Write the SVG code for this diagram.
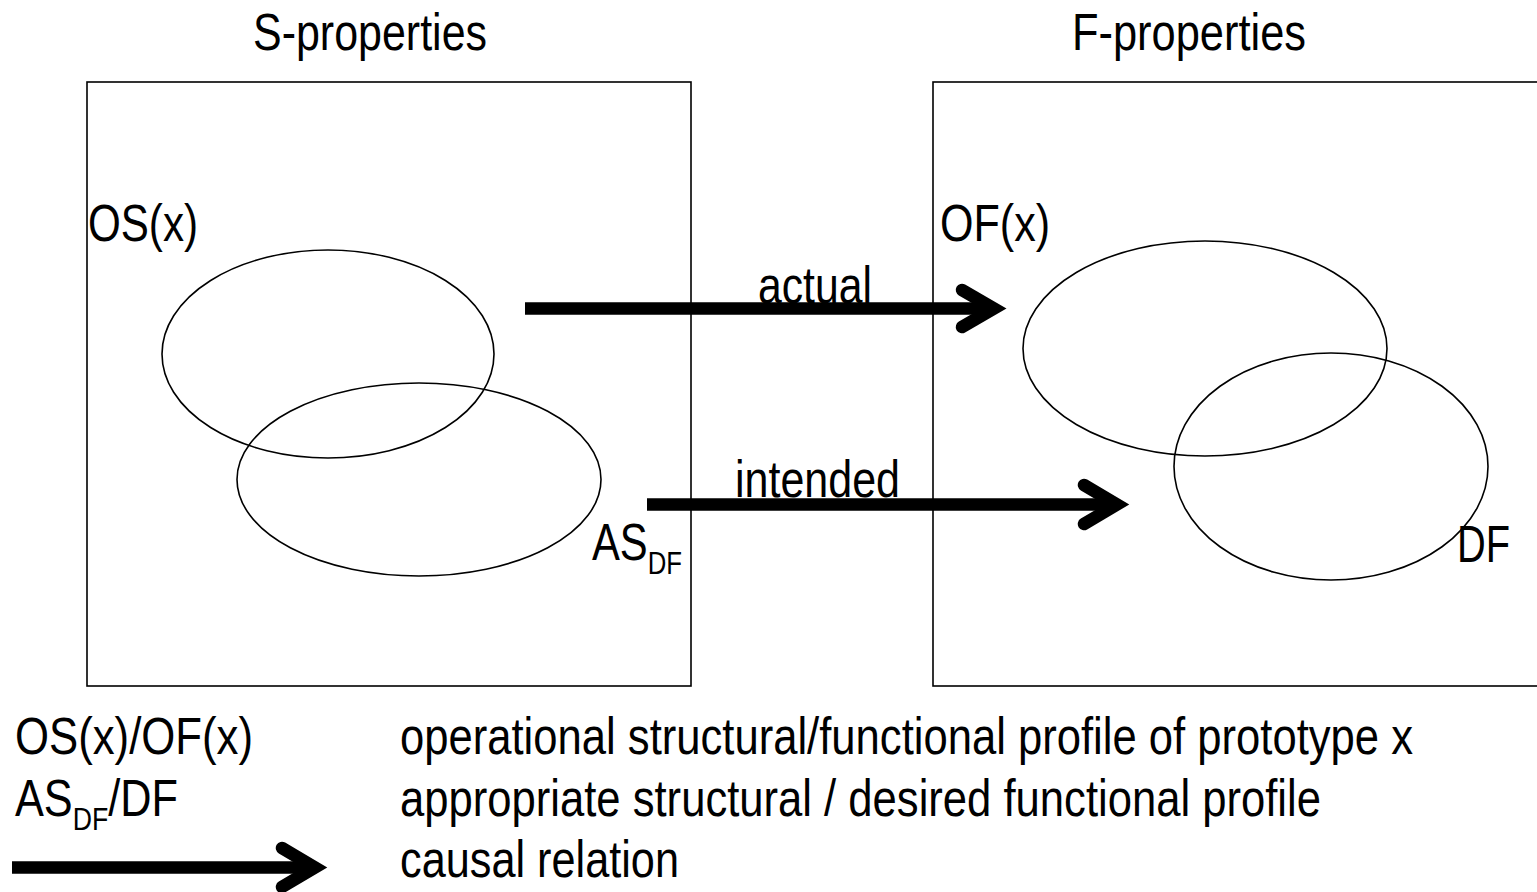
<svg xmlns="http://www.w3.org/2000/svg" width="1537" height="892" viewBox="0 0 1537 892">
<style>
text{font-family:"Liberation Sans",Arial,sans-serif;font-size:52px;fill:#000}
.sub{font-size:32px}
.box{fill:none;stroke:#000;stroke-width:1.6}
.ell{fill:none;stroke:#000;stroke-width:1.6}
.shaft{stroke:#000;stroke-width:12.5;fill:none;stroke-linecap:butt}
.head{stroke:#000;stroke-width:12.5;fill:none;stroke-linecap:round;stroke-linejoin:miter}
</style>
<rect width="1537" height="892" fill="#fff"/>
<g id="s-box">
<rect class="box" x="87" y="82" width="604" height="604"/>
<text x="253" y="50" textLength="234" lengthAdjust="spacingAndGlyphs">S-properties</text>
</g>
<g id="f-box">
<rect class="box" x="933" y="82" width="620" height="604"/>
<text x="1072" y="50" textLength="234" lengthAdjust="spacingAndGlyphs">F-properties</text>
</g>
<g id="os">
<ellipse class="ell" cx="328" cy="354" rx="166" ry="104"/>
<text x="88" y="241" textLength="110" lengthAdjust="spacingAndGlyphs">OS(x)</text>
</g>
<g id="as">
<ellipse class="ell" cx="419" cy="479.5" rx="182" ry="96.5"/>
<text x="592" y="560" textLength="90" lengthAdjust="spacingAndGlyphs">AS<tspan class="sub" dy="14">DF</tspan></text>
</g>
<g id="of">
<ellipse class="ell" cx="1205" cy="348.5" rx="182" ry="107.5"/>
<text x="940" y="241" textLength="110" lengthAdjust="spacingAndGlyphs">OF(x)</text>
</g>
<g id="df">
<ellipse class="ell" cx="1331" cy="466.5" rx="157" ry="113.5"/>
<text x="1457" y="562" textLength="53" lengthAdjust="spacingAndGlyphs">DF</text>
</g>
<g id="connectors">
<line class="shaft" x1="525" y1="308.5" x2="995" y2="308.5"/>
<polyline class="head" points="962,290 994,308.5 962,327"/>
<text x="758" y="303" textLength="114" lengthAdjust="spacingAndGlyphs">actual</text>
<line class="shaft" x1="647" y1="504.5" x2="1112" y2="504.5"/>
<polyline class="head" points="1084,485 1117,504.5 1084,524"/>
<text x="735" y="497" textLength="165" lengthAdjust="spacingAndGlyphs">intended</text>
</g>
<g id="legend">
<text x="15" y="754" textLength="238" lengthAdjust="spacingAndGlyphs">OS(x)/OF(x)</text>
<text x="15" y="816" textLength="163" lengthAdjust="spacingAndGlyphs">AS<tspan class="sub" dy="14">DF</tspan><tspan dy="-14">/DF</tspan></text>
<line class="shaft" x1="12" y1="867.5" x2="310" y2="867.5"/>
<polyline class="head" points="282,848 315,867.5 282,887"/>
<text x="400" y="754" textLength="1013" lengthAdjust="spacingAndGlyphs">operational structural/functional profile of prototype x</text>
<text x="400" y="816" textLength="921" lengthAdjust="spacingAndGlyphs">appropriate structural / desired functional profile</text>
<text x="400" y="877" textLength="279" lengthAdjust="spacingAndGlyphs">causal relation</text>
</g>
</svg>
